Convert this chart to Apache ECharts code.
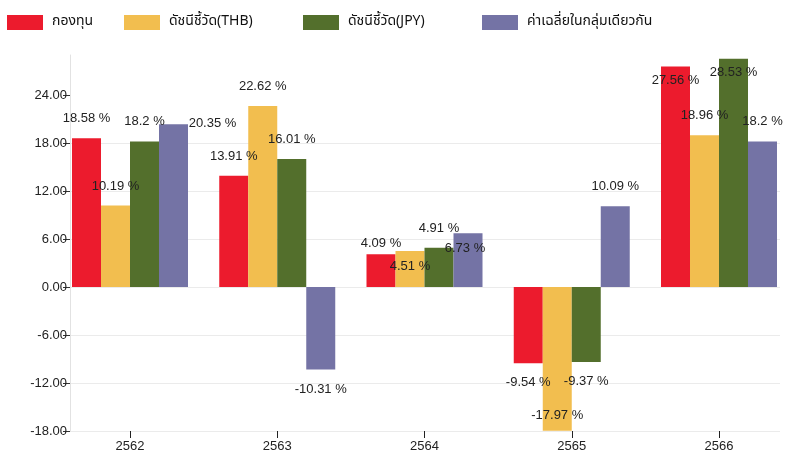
<!DOCTYPE html>
<html>
<head>
<meta charset="utf-8">
<script src="https://cdn.jsdelivr.net/npm/echarts@6/dist/echarts.min.js"></script>
<style>
  html, body { margin: 0; padding: 0; background: #fff; }
  #chart { width: 785px; height: 454px; }
</style>
</head>
<body>
<div id="chart"></div>
<script>
  // data
  const years = ['2562', '2563', '2564', '2565', '2566']
  const seriesNames = ['กองทุน', 'ดัชนีชี้วัด(THB)', 'ดัชนีชี้วัด(JPY)', 'ค่าเฉลี่ยในกลุ่มเดียวกัน']
  const fund = [18.58, 13.91, 4.09, -9.54, 27.56]
  const benchThb = [10.19, 22.62, 4.51, -17.97, 18.96]
  const benchJpy = [18.2, 16.01, 4.91, -9.37, 28.53]
  const peerAvg = [20.35, -10.31, 6.73, 10.09, 18.2]
  const yTicks = [-18, -12, -6, 0, 6, 12, 18, 24]

  const colors = ['#ec1b2d', '#f2be4f', '#536f2c', '#7473a5']

  // legend entries sit at fixed x spots in the original
  const legendLeft = [2, 119, 298, 477]

  // labels the original pushed around (series index, point index) -> [dx, dy]
  const labelNudge = {
    '3-0': [39, 19],
    '0-2': [0, 9],
    '1-2': [0, 35],
    '3-2': [-3, 35],
    '1-3': [0, -35],
    '0-4': [0, 33],
    '2-4': [0, 33]
  }

  const allValues = [fund, benchThb, benchJpy, peerAvg]
  const labelFont = 'Liberation Sans, Arial, sans-serif'

  let chart = echarts.init(document.getElementById('chart'))

  let barSeries = allValues.map(function (vals, si) {
    return {
      name: seriesNames[si],
      type: 'bar',
      xAxisIndex: 1,
      yAxisIndex: 1,
      barWidth: 29,
      barGap: '0%',
      clip: false,
      itemStyle: { color: colors[si] },
      label: {
        show: true,
        distance: 13,
        color: '#222',
        fontSize: 13,
        fontFamily: labelFont,
        formatter: function (p) {
          return p.value + ' %'
        }
      },
      data: vals.map(function (v, i) {
        return {
          value: v,
          label: {
            position: v < 0 ? 'bottom' : 'top',
            offset: labelNudge[si + '-' + i] || [0, 0]
          }
        }
      })
    }
  })

  let legends = seriesNames.map(function (name, i) {
    return {
      left: legendLeft[i],
      top: 10,
      itemWidth: 36,
      itemHeight: 15,
      icon: 'rect',
      textStyle: {
        color: '#111',
        fontSize: 14,
        padding: [0, 0, 0, 4],
        fontFamily: 'Noto Sans Thai, Loma, Garuda, DejaVu Sans, sans-serif'
      },
      data: [name]
    }
  })

  chart.setOption({
    animation: false,
    color: colors,
    legend: legends,
    grid: [
      { left: 70, right: 5, top: 55, bottom: 23 },
      { left: 130, right: 66, top: 55, bottom: 23 }
    ],
    xAxis: [
      { gridIndex: 0, type: 'category', show: false, data: years },
      {
        gridIndex: 1,
        type: 'category',
        position: 'bottom',
        data: years,
        boundaryGap: false,
        axisLine: { show: false, onZero: false },
        axisTick: { show: true, length: 7, lineStyle: { color: '#222', width: 1 } },
        axisLabel: {
          margin: 9,
          color: '#222',
          fontSize: 13,
          fontFamily: labelFont
        },
        splitLine: { show: false }
      }
    ],
    yAxis: [
      {
        gridIndex: 0,
        type: 'value',
        min: -18,
        max: 29,
        interval: 6,
        axisLine: { show: true, lineStyle: { color: '#e2e2e2' } },
        axisTick: {
          show: true,
          length: 7,
          customValues: yTicks,
          lineStyle: { color: '#333' }
        },
        axisLabel: {
          margin: 3,
          customValues: yTicks,
          color: '#222',
          fontSize: 13,
          fontFamily: labelFont,
          formatter: function (v) {
            return v.toFixed(2)
          }
        },
        splitLine: {
          show: true,
          showMaxLine: false,
          lineStyle: { color: '#ebebeb' }
        }
      },
      {
        gridIndex: 1,
        type: 'value',
        min: -18,
        max: 29,
        show: false,
        splitLine: { show: false }
      }
    ],
    series: barSeries
  })
</script>
</body>
</html>
